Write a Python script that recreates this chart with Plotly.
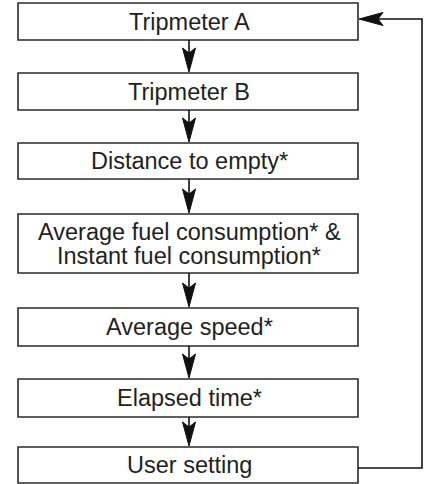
import plotly.graph_objects as go

# flowchart steps (top to bottom), second list holds the extra line for two-line boxes
steps = ["Tripmeter A", "Tripmeter B", "Distance to empty*",
         "Average fuel consumption* &", "Average speed*", "Elapsed time*", "User setting"]
second_lines = ["", "", "", "Instant fuel consumption*", "", "", ""]

W, H = 424, 484
box_top = [3, 73, 143, 214, 308, 379, 447]
box_bot = [40, 110, 179, 273, 346, 417, 483]
x0, x1 = 18, 358
cx = 189
loop_x = 422
line_col = "#2b2b2b"
text_col = "#231f20"
font = dict(family="Liberation Sans, Arial, sans-serif", size=23.5, color=text_col)

fig = go.Figure()
shapes = []
annotations = []


def arrow_down(x, tip):
    # notched arrowhead pointing down
    return dict(type="path", path=f"M {x-6.5} {tip-24} L {x} {tip} L {x+6.5} {tip-24} L {x} {tip-19} Z",
                fillcolor="#111", line=dict(color="#111", width=1), layer="above")


for i, label in enumerate(steps):
    shapes.append(dict(type="rect", x0=x0, x1=x1, y0=box_top[i], y1=box_bot[i],
                       line=dict(color=line_col, width=1.6), fillcolor="white", layer="below"))
    mid = (box_top[i] + box_bot[i]) / 2
    if second_lines[i]:
        annotations.append(dict(x=cx, y=mid - 12, text=label, showarrow=False, font=font,
                                xanchor="center", yanchor="middle"))
        annotations.append(dict(x=cx, y=mid + 12, text=second_lines[i], showarrow=False, font=font,
                                xanchor="center", yanchor="middle"))
    else:
        annotations.append(dict(x=cx, y=mid, text=label, showarrow=False, font=font,
                                xanchor="center", yanchor="middle"))
    if i < len(steps) - 1:
        shapes.append(dict(type="line", x0=cx, x1=cx, y0=box_bot[i], y1=box_top[i + 1] - 10,
                           line=dict(color="#111", width=1.6)))
        shapes.append(arrow_down(cx, box_top[i + 1] - 1))

# loop back from the last box to the first
y_out = 468
y_in = 19
shapes.append(dict(type="path",
                   path=f"M {x1} {y_out} L {loop_x} {y_out} L {loop_x} {y_in} L {x1 + 15} {y_in}",
                   line=dict(color="#111", width=1.6)))
shapes.append(dict(type="path",
                   path=f"M {x1+1} {y_in} L {x1+25} {y_in-6.5} L {x1+20} {y_in} L {x1+25} {y_in+6.5} Z",
                   fillcolor="#111", line=dict(color="#111", width=1), layer="above"))

fig.update_layout(
    width=W, height=H,
    margin=dict(l=0, r=0, t=0, b=0),
    paper_bgcolor="white", plot_bgcolor="white",
    xaxis=dict(range=[0, W], visible=False, fixedrange=True),
    yaxis=dict(range=[H, 0], visible=False, fixedrange=True),
    shapes=shapes, annotations=annotations,
    showlegend=False,
)

fig.write_html("out.html", config={"displayModeBar": False},
               post_script="document.body.style.margin='0';document.body.style.overflow='hidden';")
